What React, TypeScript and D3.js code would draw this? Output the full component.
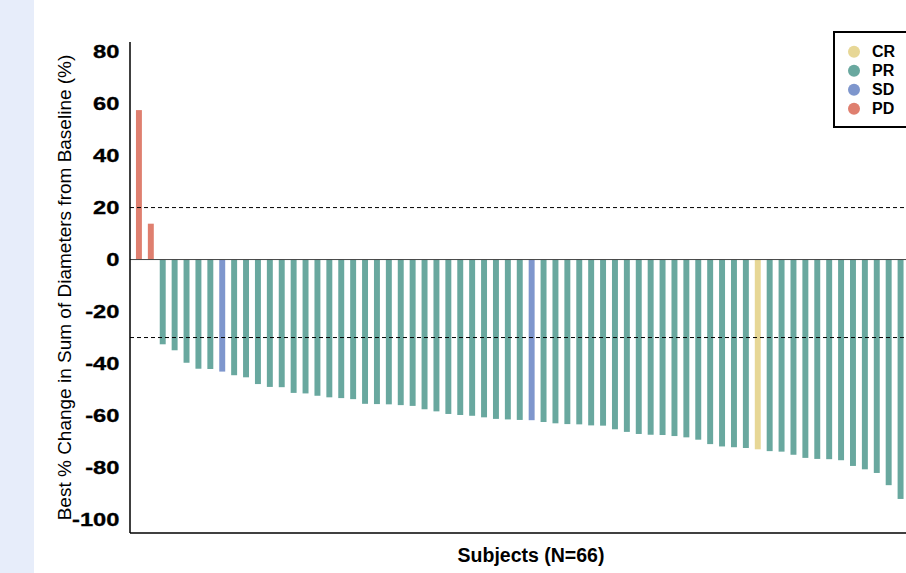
import React from "react";
import * as d3 from "d3";

const subjects: number[] = Array.from({ length: 66 }, (_, i) => i + 1);
const bestChange: number[] = [
  57.5, 13.8, -32.6, -34.9, -39.7, -42.0, -42.1, -43.1, -44.5, -45.3,
  -47.9, -49.0, -49.1, -51.3, -51.5, -52.4, -53.0, -53.3, -53.7, -55.5,
  -55.6, -55.7, -56.0, -56.3, -57.6, -58.4, -59.4, -59.8, -60.1, -60.7,
  -61.3, -61.5, -61.7, -61.8, -62.5, -63.0, -63.3, -63.4, -63.8, -63.9,
  -65.3, -66.3, -67.1, -67.4, -67.5, -67.9, -68.4, -69.3, -71.0, -71.9,
  -72.2, -72.5, -73.0, -73.7, -73.9, -75.1, -76.3, -76.7, -76.8, -77.2,
  -79.4, -80.7, -82.1, -86.8, -92.1, -95.0,
];
const response: string[] = [
  "PD", "PD", "PR", "PR", "PR", "PR", "PR", "SD", "PR", "PR",
  "PR", "PR", "PR", "PR", "PR", "PR", "PR", "PR", "PR", "PR",
  "PR", "PR", "PR", "PR", "PR", "PR", "PR", "PR", "PR", "PR",
  "PR", "PR", "PR", "SD", "PR", "PR", "PR", "PR", "PR", "PR",
  "PR", "PR", "PR", "PR", "PR", "PR", "PR", "PR", "PR", "PR",
  "PR", "PR", "CR", "PR", "PR", "PR", "PR", "PR", "PR", "PR",
  "PR", "PR", "PR", "PR", "PR", "PR",
];
const legendCategories: string[] = ["CR", "PR", "SD", "PD"];
const legendColors: string[] = ["#e7d796", "#69a89f", "#7e96cd", "#df7f6f"];
const yTicks: number[] = [80, 60, 40, 20, 0, -20, -40, -60, -80, -100];
const refLines: number[] = [20, -30];
const yDomain: number[] = [-105.2, 83.7];

export default function App() {
  const W = 960;
  const H = 573;
  const left = 130;
  const right = 921.4;
  const top = 42;
  const bottom = 533;

  const x = d3
    .scaleBand<number>()
    .domain(subjects)
    .range([left, right])
    .paddingInner(0.5)
    .paddingOuter(0.5);
  const y = d3.scaleLinear().domain(yDomain).range([bottom, top]);
  const color = d3.scaleOrdinal<string, string>().domain(legendCategories).range(legendColors);

  const font = "'Liberation Sans', Arial, Helvetica, sans-serif";

  return (
    <div
      style={{
        position: "absolute",
        left: 0,
        top: 0,
        width: 906,
        height: 573,
        overflow: "hidden",
        background: "#fff",
      }}
    >
      <svg width={W} height={H} style={{ display: "block" }} fontFamily={font}>
        <rect x={0} y={0} width={34} height={H} fill="#e7edfa" />

        {/* bars */}
        {subjects.map((s, i) => {
          const v = bestChange[i];
          const y0 = y(0);
          const y1 = y(v);
          return (
            <rect
              key={s}
              x={x(s)}
              y={Math.min(y0, y1)}
              width={x.bandwidth()}
              height={Math.abs(y1 - y0)}
              fill={color(response[i])}
            />
          );
        })}

        {/* zero line */}
        <line x1={left} x2={W} y1={y(0)} y2={y(0)} stroke="#444" strokeWidth={1} />

        {/* reference dashed lines */}
        {refLines.map((r) => (
          <line
            key={r}
            x1={left}
            x2={W}
            y1={y(r)}
            y2={y(r)}
            stroke="#000"
            strokeWidth={1}
            strokeDasharray="4,3"
          />
        ))}

        {/* axes */}
        <line x1={left} x2={left} y1={top} y2={bottom} stroke="#000" strokeWidth={1.5} />
        <line x1={left} x2={W} y1={bottom} y2={bottom} stroke="#000" strokeWidth={1.5} />

        {/* y tick labels */}
        {yTicks.map((t) => (
          <text
            key={t}
            transform={`translate(119.5, ${y(t)}) scale(1.32, 1)`}
            textAnchor="end"
            dy="0.38em"
            fontSize={18}
            fontWeight="bold"
            fill="#000"
            stroke="#000"
            strokeWidth={0.3}
          >
            {t}
          </text>
        ))}

        {/* y axis title */}
        <text
          transform={`translate(71, 287.5) rotate(-90)`}
          textAnchor="middle"
          fontSize={19}
          fill="#000"
        >
          Best % Change in Sum of Diameters from Baseline (%)
        </text>

        {/* x axis title */}
        <text x={531} y={561.5} textAnchor="middle" fontSize={19.5} fontWeight="bold" fill="#000">
          Subjects (N=66)
        </text>

        {/* legend */}
        <rect x={834} y={32} width={110} height={95} fill="#fff" stroke="#000" strokeWidth={2} />
        {legendCategories.map((c, i) => (
          <g key={c} transform={`translate(0, ${51.7 + i * 19})`}>
            <circle cx={854} cy={0} r={6} fill={legendColors[i]} />
            <text x={872} y={0} dy="0.36em" fontSize={16} fontWeight="bold" fill="#000">
              {c}
            </text>
          </g>
        ))}
      </svg>
    </div>
  );
}
